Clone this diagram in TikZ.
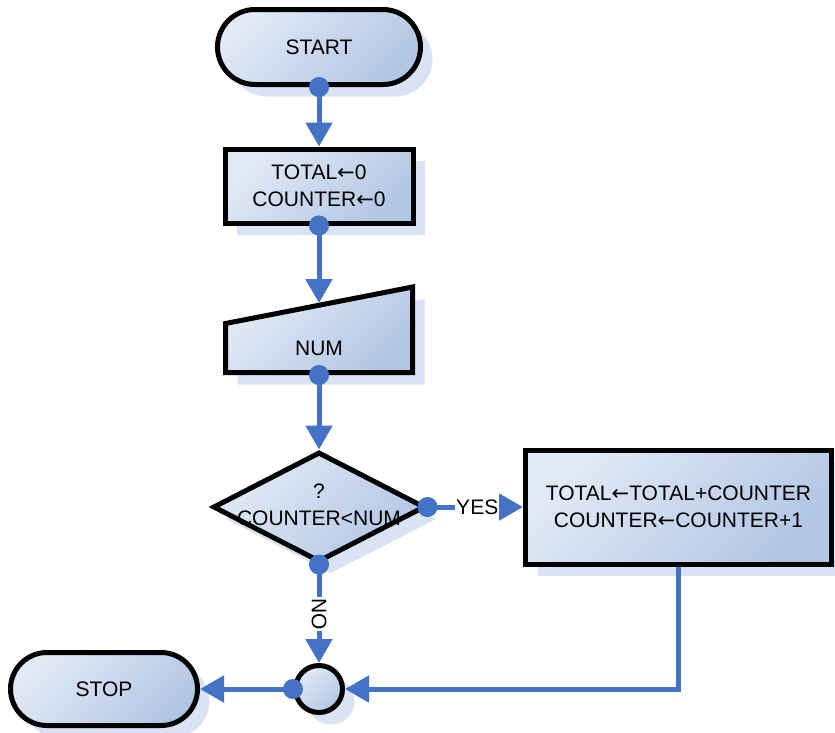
\documentclass[tikz,border=0pt]{standalone}
\usepackage{fontspec}
\setmainfont{Liberation Sans}
\newfontfamily\arrowfont{DejaVu Sans}
\newcommand{\assign}{{\arrowfont ←}}
\usetikzlibrary{shapes.geometric}
\usetikzlibrary{shapes.misc}
\usetikzlibrary{shadows}
\usetikzlibrary{arrows.meta}
\definecolor{flowblue}{RGB}{68,114,196}
\definecolor{boxlight}{RGB}{226,234,246}
\definecolor{boxdark}{RGB}{178,198,228}
\definecolor{shadowblue}{RGB}{218,227,243}

\begin{document}
\begin{tikzpicture}[x=1pt,y=-1pt]
\tikzstyle{boite}=[draw=black,line width=5pt,top color=boxlight,bottom color=boxdark,shading angle=45,
	drop shadow={shadow xshift=12pt,shadow yshift=-12pt,fill=shadowblue,opacity=1},
	font=\fontsize{21}{27}\selectfont,align=center,inner sep=0pt]
\tikzstyle{fleche}=[draw=flowblue,line width=5pt,{Circle[length=20pt]}-{Triangle[width=26pt,length=24pt]},shorten <=-10pt]
\tikzstyle{retour}=[draw=flowblue,line width=5pt,-{Triangle[width=26pt,length=24pt]}]
\tikzstyle{etiq}=[fill=white,inner sep=1pt,font=\fontsize{21}{27}\selectfont]
	\useasboundingbox (0,0) rectangle (835,732);
\par
	\node[boite,rounded rectangle,minimum width=203pt,minimum height=75pt] (start) at (319,47) {START};
	\node[boite,rectangle,minimum width=188pt,minimum height=74pt] (init) at (319,186) {TOTAL\assign0\\COUNTER\assign0};
	\draw[boite] (225.5,323.5) -- (412.5,287) -- (412.5,372.5) -- (225.5,372.5) -- cycle;
	\node[font=\fontsize{21}{27}\selectfont] (num) at (319,348) {NUM};
	\coordinate (numtop) at (319,303);
	\coordinate (numbot) at (319,375);
\par
	\node[boite,diamond,minimum width=212pt,minimum height=110pt] (test) at (319,507) {};
	\node[font=\fontsize{21}{27}\selectfont,align=center] (testtxt) at (319,505) {?\\COUNTER<NUM};
	\node[boite,rectangle,minimum width=306pt,minimum height=114pt] (loop) at (678.5,507) {TOTAL\assign TOTAL+COUNTER\\COUNTER\assign COUNTER+1};
	\node[boite,circle,minimum size=47pt] (join) at (319,689) {};
	\node[boite,rounded rectangle,minimum width=187pt,minimum height=73pt] (stop) at (104,689) {STOP};
\par
	\draw[fleche] (start.south) -- (init.north);
	\draw[fleche] (init.south) -- (numtop);
	\draw[fleche] (numbot) -- (test.north);
	\draw[fleche] (test.east) -- node[etiq,xshift=2pt] {YES} (loop.west);
	\draw[fleche] (test.south) -- node[etiq,rotate=-90] {NO} (join.north);
	\draw[retour] (loop.south) |- (join.east);
	\draw[fleche] (join.west) -- (stop.east);
\end{tikzpicture}
\end{document}
